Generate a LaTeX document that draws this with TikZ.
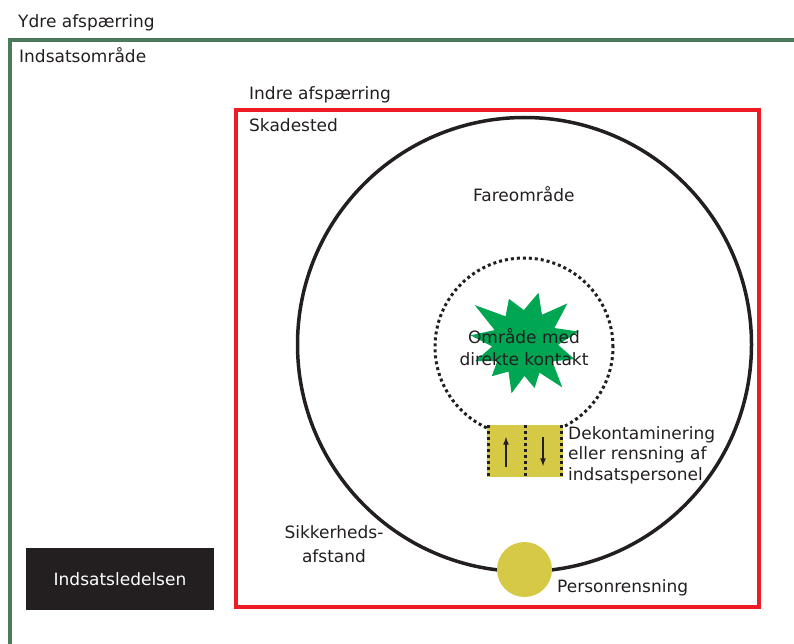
\documentclass[tikz,border=0pt]{standalone}
\usepackage{fontspec}
\setmainfont{DejaVu Sans}

\definecolor{frameGreen}{RGB}{74,122,92}
\definecolor{zoneRed}{RGB}{237,28,36}
\definecolor{burstGreen}{RGB}{0,166,81}
\definecolor{decoYellow}{RGB}{214,201,69}
\definecolor{ink}{RGB}{35,31,32}

\begin{document}
\begin{tikzpicture}[x=1pt, y=-1pt, >=latex, font=\fontsize{17}{20.5}\selectfont]
        \tikzstyle{txt} = [inner sep=0pt, text=ink, anchor=base west]
        \tikzstyle{dots} = [draw=ink, line width=3pt, dash pattern=on 3pt off 3pt]
        \useasboundingbox (0,0) rectangle (794,644);
        % zones
        \draw[frameGreen, line width=4pt] (800,40) -- (9.5,40) -- (9.5,650);
        \draw[zoneRed, line width=4pt] (236,110) rectangle (759,607);
        \draw[ink, line width=3.5pt] (524.5,344.5) circle (227pt);
        \draw[dots] (524,347) circle (89pt);
        % burst
        \begin{scope}[shift={(525,343)}]
            \fill[burstGreen] (143:63pt) -- (126:33pt) -- (110:47pt) -- (92:33pt) -- (75:52pt) -- (59:33pt)
                -- (43:58pt) -- (27:33pt) -- (12:55pt) -- (-3:33pt) -- (-18:52pt) -- (-34:33pt)
                -- (-50:58pt) -- (-64:33pt) -- (-78:46pt) -- (-91:33pt) -- (-105:52pt) -- (-120:33pt)
                -- (-135:47pt) -- (-147:33pt) -- (-160:53pt) -- (-174:33pt) -- (172:55pt) -- (157:33pt) -- cycle;
        \end{scope}
        % labels
        \node[txt] (ydre) at (18,28) {Ydre afspærring};
        \node[txt] (omr) at (19,63) {Indsatsområde};
        \node[txt] (indre) at (249,100) {Indre afspærring};
        \node[txt] (skade) at (249,132) {Skadested};
        \node[txt] (fare) at (473,202) {Fareområde};
        \node[inner sep=0pt, text=ink, align=center, font=\fontsize{17}{22}\selectfont] (direkte) at (524,347) {Område med\\direkte kontakt};
        % decontamination
        \node[fill=decoYellow, minimum width=76pt, minimum height=52pt, inner sep=0pt] (deko) at (525,451) {};
        \draw[dots] (488.5,425) -- (488.5,477);
        \draw[dots] (525,425) -- (525,477);
        \draw[dots] (561.5,425) -- (561.5,477);
        \coordinate (indA) at (506,467);
        \coordinate (indB) at (506,437);
        \coordinate (udA) at (543,437);
        \coordinate (udB) at (543,466);
        \draw[->, ink, line width=1.6pt] (indA) -- (indB);
        \draw[->, ink, line width=1.6pt] (udA) -- (udB);
        \node[txt, align=left] (dekotxt) at (568,480) {Dekontaminering\\eller rensning af\\indsatspersonel};
        \node[txt, anchor=base, align=center, font=\fontsize{17}{24}\selectfont] (sikker) at (334,562) {Sikkerheds-\\afstand};
        \node[circle, fill=decoYellow, minimum size=55pt, inner sep=0pt] (rens) at (524.5,569.5) {};
        \node[txt] (renstxt) at (557,592) {Personrensning};
        \node[fill=ink, text=white, minimum width=188pt, minimum height=62pt, inner sep=0pt] (ledelse) at (120,579) {Indsatsledelsen};
    \end{tikzpicture}
\end{document}
